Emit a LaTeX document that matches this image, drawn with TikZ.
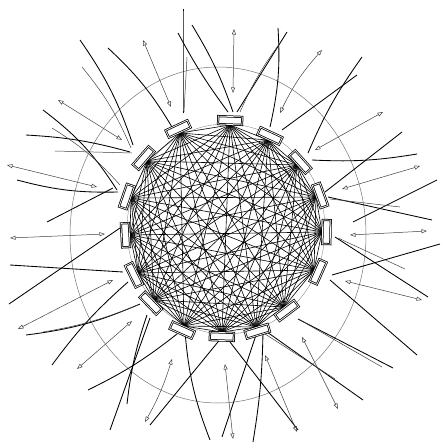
\documentclass[tikz,border=0pt]{standalone}
\usepackage{tikz}
\usetikzlibrary{arrows.meta,calc}

\begin{document}
\begin{tikzpicture}[
    x=1pt, y=-1pt,
    edge/.style={line width=0.6pt, black},
    cell/.style={
        rectangle, draw, line width=0.75pt, double=white, double distance=0.7pt,
        fill=white, minimum width=24pt, minimum height=8pt, inner sep=0pt
    },
    ray/.style={line width=0.85pt, black},
    thinray/.style={line width=0.5pt, black!75},
    dart/.style={{Triangle[open,length=5.5pt,width=4pt]}-{Triangle[open,length=5.5pt,width=4pt]},
        line width=0.5pt, black!75}
]
    \useasboundingbox (0,0) rectangle (440,444);
    % hub points on the ring, with their angle
    \foreach \n/\x/\y/\a in {1/230/125/88, 2/268/140/65, 3/297/165/42, 4/316/197/20,
        5/322/232/-1, 6/314/270/-24, 7/284/307/-53, 8/256/327/-73,
        9/222/332/-92, 10/184/326/-114, 11/154/300/-136, 12/138/273/-154,
        13/130/235/-177, 14/131/198/161, 15/147/161/139, 16/180/133/115}
        \coordinate (p\n) at (\x,\y);
    % outer ring
    \draw[black!55, line width=0.5pt] (218,235) ellipse [x radius=148, y radius=168];
    \draw[black!50, line width=0.35pt] (226,229) ellipse [x radius=99, y radius=105];
    % every hub to every hub
    \foreach \i in {1,...,15}{
        \pgfmathtruncatemacro\k{\i+1}
        \foreach \j in {\k,...,16} \draw[edge] (p\i) -- (p\j);
    }
    % strokes going out
    \foreach \a/\b/\c/\d/\e in {183/113/183/9/0, 233/112/192/25/-6, 228/112/178/33/4,
        172/127/108/48/-8, 133/145/80/40/-8, 117/190/43/110/-10, 130/152/26/135/-6,
        118/192/17/180/8, 113/188/47/222/0, 123/272/10/265/0, 120/228/9/304/0,
        140/304/26/335/8, 128/282/52/365/-6, 177/334/88/390/6, 147/315/127/404/-6,
        150/318/110/430/0, 222/337/150/425/0, 185/332/210/440/-8,
        335/237/428/297/0, 332/275/440/244/0, 330/280/417/355/0, 298/319/393/368/0,
        267/332/363/400/0, 230/342/298/430/0, 257/332/222/437/0, 263/332/253/442/4,
        237/112/287/32/0, 270/127/278/28/-8, 282/130/357/75/0, 308/153/362/57/6,
        312/160/417/154/-6, 325/192/402/132/0, 328/197/432/220/0, 353/222/437/180/0}
        \draw[ray] (\a,\b) to[bend left=\e] (\c,\d);
    \foreach \a/\b/\c/\d/\e in {184/112/187/57/0, 131/148/82/67/-8, 120/185/52/128/-8,
        132/153/55/151/0, 138/305/43/332/6, 338/238/405/269/0, 300/320/382/367/0,
        262/332/335/379/0, 240/112/280/43/6, 330/199/400/207/0}
        \draw[thinray] (\a,\b) to[bend left=\e] (\c,\d);
    % double-headed arrows
    \foreach \a/\b/\c/\d/\e in {143/40/171/107/0, 58/100/122/140/0, 7/165/97/187/0,
        10/238/105/234/0, 18/329/113/280/0, 77/369/132/321/0, 145/422/172/359/-6,
        234/29/233/93/0, 322/50/280/113/-8, 383/112/315/150/0, 420/166/342/189/0,
        350/235/427/231/0, 345/281/422/300/0, 302/337/338/409/0, 265/355/297/432/0,
        225/364/233/439/0}
        \draw[dart] (\a,\b) to[bend left=\e] (\c,\d);
    % boxes on the ring
    \foreach \n/\x/\y/\a in {1/230/125/88, 2/268/140/65, 3/297/165/42, 4/316/197/20,
        5/322/232/-1, 6/314/270/-24, 7/284/307/-53, 8/256/327/-73,
        9/222/332/-92, 10/184/326/-114, 11/154/300/-136, 12/138/273/-154,
        13/130/235/-177, 14/131/198/161, 15/147/161/139, 16/180/133/115}
        \node[cell, rotate=\a-90] (b\n) at ($(p\n)+(\a:4.5pt)$) {};
\end{tikzpicture}
\end{document}
